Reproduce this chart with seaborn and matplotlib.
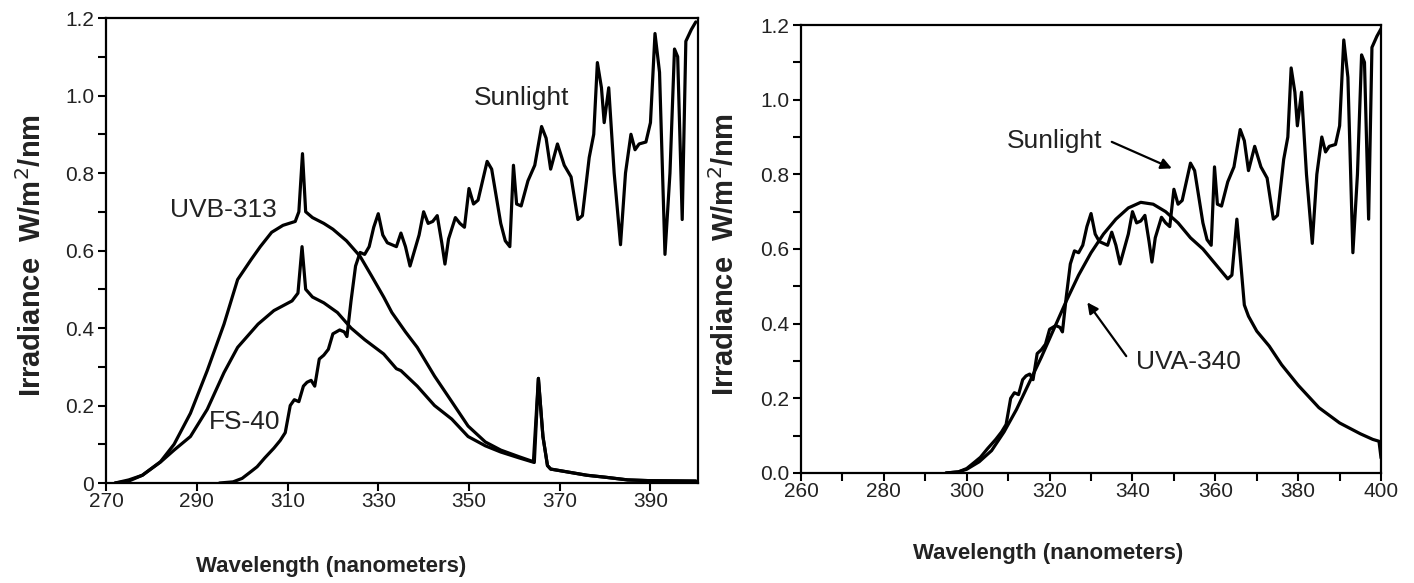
import numpy as np
import pandas as pd
import matplotlib
matplotlib.use('Agg')
import matplotlib.pyplot as plt
from matplotlib.ticker import MultipleLocator, FixedLocator, FuncFormatter
import seaborn as sns

# Sunlight spectrum (same curve in both panels)
sun_wl = [295, 298, 300, 302, 303.3, 305, 307, 308.4, 309.5, 310.6, 311.5, 312.5, 313.5, 314.3,
          315.2, 316, 317, 318, 319, 320, 321.5, 322.5, 323.1, 324, 325, 326, 327, 328, 329, 330,
          331, 332, 333, 334, 335, 336, 337, 338, 339, 340, 341, 342, 343, 344, 344.7, 345.5,
          347, 348, 349, 350, 351, 352, 354, 355, 356, 357, 358, 359, 359.8, 360.5, 361.5, 363,
          364.5, 366, 367, 368, 369.5, 371, 372.5, 374, 375, 376.5, 377.5, 378.3, 379.2, 379.8,
          380.8, 382, 383.4, 384.5, 385.7, 386.6, 387.5, 389, 390, 391, 392, 393.2, 394.3, 395.3,
          396, 397, 397.8, 399, 400]
sun_irr = [0, 0.003, 0.012, 0.03, 0.042, 0.065, 0.09, 0.11, 0.13, 0.2, 0.215, 0.21, 0.25, 0.26,
           0.265, 0.25, 0.32, 0.33, 0.345, 0.385, 0.395, 0.39, 0.378, 0.47, 0.56, 0.595, 0.59,
           0.61, 0.66, 0.695, 0.64, 0.62, 0.615, 0.61, 0.645, 0.61, 0.56, 0.60, 0.64, 0.70, 0.67,
           0.675, 0.69, 0.62, 0.565, 0.63, 0.685, 0.67, 0.66, 0.76, 0.72, 0.73, 0.83, 0.81, 0.74,
           0.67, 0.625, 0.61, 0.82, 0.72, 0.715, 0.78, 0.82, 0.92, 0.89, 0.81, 0.875, 0.82, 0.79,
           0.68, 0.69, 0.84, 0.90, 1.085, 1.02, 0.93, 1.02, 0.80, 0.615, 0.80, 0.90, 0.86, 0.875,
           0.88, 0.93, 1.16, 1.06, 0.59, 0.80, 1.12, 1.10, 0.68, 1.14, 1.17, 1.19]

# UVB-313 lamp
uvb_wl = [272, 275, 278, 282, 285, 288.6, 292.3, 296, 299, 302, 304, 306.5, 309, 311.7, 312.5,
          313.3, 314, 315.5, 318, 320, 323, 326, 328.5, 331.2, 333, 334.5, 336, 338.6, 342.4,
          346.2, 349.8, 353.6, 357, 361, 364.2, 365.3, 366.3, 367.3, 368, 372, 376, 380, 385,
          390, 400]
uvb_irr = [0, 0.005, 0.02, 0.055, 0.1, 0.18, 0.29, 0.41, 0.525, 0.577, 0.61, 0.647, 0.665, 0.675,
           0.7, 0.85, 0.7, 0.685, 0.67, 0.655, 0.625, 0.585, 0.535, 0.48, 0.44, 0.415, 0.39,
           0.35, 0.276, 0.21, 0.147, 0.106, 0.085, 0.068, 0.055, 0.27, 0.12, 0.045, 0.036, 0.028,
           0.02, 0.015, 0.008, 0.006, 0.005]

# FS-40 lamp
fs_wl = [272, 275, 278, 282, 285, 288.6, 292.3, 296, 299, 303.5, 307, 311, 312.3, 313.2, 314,
         315.5, 318, 321, 324, 327, 331.2, 334, 335, 338.6, 342.4, 346.2, 349.8, 353.6, 357, 361,
         364.4, 365.3, 366.3, 367.3, 368, 372, 376, 380, 385, 390, 400]
fs_irr = [0, 0.008, 0.02, 0.054, 0.085, 0.12, 0.19, 0.285, 0.35, 0.41, 0.445, 0.47, 0.49, 0.61,
          0.5, 0.48, 0.465, 0.44, 0.40, 0.37, 0.333, 0.295, 0.29, 0.25, 0.2, 0.165, 0.12, 0.096,
          0.08, 0.065, 0.053, 0.27, 0.12, 0.045, 0.036, 0.028, 0.02, 0.015, 0.008, 0.006, 0.005]

# UVA-340 lamp
uva_wl = [295, 298, 300, 303, 306, 309, 312, 315, 318, 321, 324, 327, 330, 333, 336, 339, 342,
          345, 348, 351, 354, 357, 360, 363, 364, 365.2, 366, 367, 368, 370, 373, 376, 380, 385,
          390, 395, 398, 399.5, 400]
uva_irr = [0, 0.003, 0.01, 0.03, 0.06, 0.11, 0.17, 0.24, 0.31, 0.385, 0.46, 0.53, 0.59, 0.64,
           0.68, 0.71, 0.725, 0.72, 0.70, 0.67, 0.63, 0.60, 0.56, 0.52, 0.53, 0.68, 0.58, 0.45,
           0.42, 0.38, 0.34, 0.29, 0.235, 0.175, 0.134, 0.105, 0.09, 0.085, 0.04]

left_xticks = [270, 290, 310, 330, 350, 370, 390]
right_xticks = [260, 280, 300, 320, 340, 360, 380, 400]
yticks = [0, 0.2, 0.4, 0.6, 0.8, 1.0, 1.2]

sns.set_style('ticks')
plt.rcParams['font.family'] = ['Liberation Sans', 'DejaVu Sans']
plt.rcParams['axes.linewidth'] = 1.6

fig = plt.figure(figsize=(14.14, 5.83), dpi=100)
ax1 = fig.add_axes([0.075, 0.1715, 0.4187, 0.7976])
ax2 = fig.add_axes([0.5665, 0.1887, 0.4102, 0.7684])

lw = 2.3
sns.lineplot(x=sun_wl, y=sun_irr, ax=ax1, color='black', lw=lw, errorbar=None)
sns.lineplot(x=uvb_wl, y=uvb_irr, ax=ax1, color='black', lw=lw, errorbar=None)
sns.lineplot(x=fs_wl, y=fs_irr, ax=ax1, color='black', lw=lw, errorbar=None)

sns.lineplot(x=sun_wl, y=sun_irr, ax=ax2, color='black', lw=lw, errorbar=None)
sns.lineplot(x=uva_wl, y=uva_irr, ax=ax2, color='black', lw=lw, errorbar=None)

ax1.set_xlim(270, 400.5)
ax2.set_xlim(260, 400)
for ax in (ax1, ax2):
    ax.set_ylim(0, 1.2)
    ax.yaxis.set_major_locator(FixedLocator(yticks))
    ax.yaxis.set_minor_locator(MultipleLocator(0.1))
    ax.tick_params(which='both', direction='out', length=6, width=1.5, colors='black',
                   labelsize=15, labelcolor='#222222', pad=2.5)
    ax.tick_params(axis='x', pad=0.5)
    for sp in ax.spines.values():
        sp.set_visible(True)
        sp.set_color('black')
    ax.set_xlabel('Wavelength (nanometers)', fontsize=16, fontweight='bold', color='#222222')
    ax.set_ylabel('Irradiance  W/m$^2$/nm', fontsize=21, fontweight='bold', color='#222222')

ax1.xaxis.set_major_locator(FixedLocator(left_xticks))
ax1.yaxis.set_major_formatter(FuncFormatter(lambda v, p: '0' if v == 0 else f'{v:.1f}'))
ax2.xaxis.set_major_locator(FixedLocator(right_xticks))
ax2.xaxis.set_minor_locator(MultipleLocator(10))
ax2.yaxis.set_major_formatter(FuncFormatter(lambda v, p: f'{v:.1f}'))

ax1.xaxis.set_label_coords(0.38, -0.158)
ax1.yaxis.set_label_coords(-0.10, 0.49)
ax2.xaxis.set_label_coords(0.426, -0.156)
ax2.yaxis.set_label_coords(-0.105, 0.487)

# curve labels
lab = dict(fontsize=19, color='#222222', ha='center', va='center')
ax1.text(361.5, 0.994, 'Sunlight', **lab)
ax1.text(295.8, 0.705, 'UVB-313', **lab)
ax1.text(300.5, 0.158, 'FS-40', **lab)

ax2.text(321.3, 0.89, 'Sunlight', **lab)
ax2.text(353.4, 0.298, 'UVA-340', **lab)
arrow = dict(arrowstyle='-|>', color='black', lw=1.6, mutation_scale=16, shrinkA=0, shrinkB=0)
ax2.annotate('', xy=(349.5, 0.816), xytext=(335, 0.887), arrowprops=arrow)
ax2.annotate('', xy=(329.1, 0.457), xytext=(338.5, 0.313), arrowprops=arrow)

fig.savefig('out.png', dpi=100)
